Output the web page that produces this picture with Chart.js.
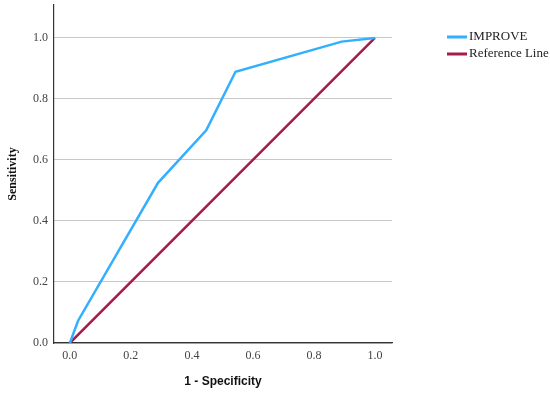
<!DOCTYPE html>
<html lang="en">
<head>
<meta charset="UTF-8">
<title>ROC Curve</title>
<script src="https://cdn.jsdelivr.net/npm/chart.js@4"></script>
<style>
    html, body { margin: 0; padding: 0; background: #fff; }
    #wrap { width: 550px; height: 393px; position: relative; }
</style>
</head>
<body>
<div id="wrap"><canvas id="roc"></canvas></div>
<script>
    // ROC points
    const improveX = [0.0, 0.027, 0.289, 0.447, 0.543, 0.891, 1.0];
    const improveY = [0.0, 0.073, 0.525, 0.697, 0.889, 0.988, 1.0];
    const refX = [0.0, 1.0];
    const refY = [0.0, 1.0];
    const tickValues = [0.0, 0.2, 0.4, 0.6, 0.8, 1.0];
    const seriesNames = ['IMPROVE', 'Reference Line'];
    const seriesColors = ['#33AFFF', '#A71A4C'];

    const toPoints = (xs, ys) => xs.map((x, i) => ({ x: x, y: ys[i] }));
    const fixedTicks = s => { s.ticks = tickValues.map(v => ({ value: v })); };

    // legend drawn on the right, outside the plot
    const sideLegend = {
        id: 'sideLegend',
        afterDraw(chart) {
            const ctx = chart.ctx;
            ctx.save();
            ctx.font = '13px "Liberation Serif", serif';
            ctx.textBaseline = 'middle';
            chart.data.datasets.forEach((ds, i) => {
                const y = 37 + i * 17;
                ctx.strokeStyle = ds.borderColor;
                ctx.lineWidth = 3;
                ctx.beginPath();
                ctx.moveTo(447, y);
                ctx.lineTo(467, y);
                ctx.stroke();
                ctx.fillStyle = '#222';
                ctx.fillText(ds.label, 469, y);
            });
            ctx.restore();
        }
    };

    new Chart(document.getElementById('roc'), {
        type: 'line',
        data: {
            datasets: [
                { label: seriesNames[0], data: toPoints(improveX, improveY), borderColor: seriesColors[0], borderWidth: 2.5, pointRadius: 0, tension: 0, fill: false },
                { label: seriesNames[1], data: toPoints(refX, refY), borderColor: seriesColors[1], borderWidth: 2.5, pointRadius: 0, tension: 0, fill: false }
            ]
        },
        options: {
            responsive: true,
            maintainAspectRatio: false,
            animation: false,
            layout: { padding: { top: 5, right: 158, left: 0, bottom: 0 } },
            plugins: { legend: { display: false }, tooltip: { enabled: false } },
            scales: {
                x: {
                    type: 'linear',
                    min: -0.052, max: 1.056,
                    afterBuildTicks: fixedTicks,
                    afterFit: s => { s.height = 50; s.paddingLeft = 0; s.paddingRight = 0; },
                    grid: { display: false, drawTicks: false },
                    border: { display: true, color: '#333', width: 1.2 },
                    ticks: { padding: 6, color: '#444', font: { family: '"Liberation Serif", serif', size: 12 }, callback: v => v.toFixed(1) },
                    title: { display: true, text: '1 - Specificity', color: '#111', font: { family: '"Liberation Sans", Arial, sans-serif', size: 12, weight: 'bold' }, padding: { top: 14 } }
                },
                y: {
                    type: 'linear',
                    min: 0, max: 1.108,
                    afterBuildTicks: fixedTicks,
                    afterFit: s => { s.width = 54; s.paddingTop = 0; s.paddingBottom = 0; },
                    grid: { color: '#c8c8c8', lineWidth: 1, drawTicks: false },
                    border: { display: true, color: '#333', width: 1.2 },
                    ticks: { padding: 6, color: '#444', font: { family: '"Liberation Serif", serif', size: 12 }, callback: v => v.toFixed(1) },
                    title: { display: true, text: 'Sensitivity', color: '#111', font: { family: '"Liberation Serif", serif', size: 12, weight: 'bold' }, padding: { top: 6, bottom: 0 } }
                }
            }
        },
        plugins: [sideLegend]
    });
</script>
</body>
</html>
